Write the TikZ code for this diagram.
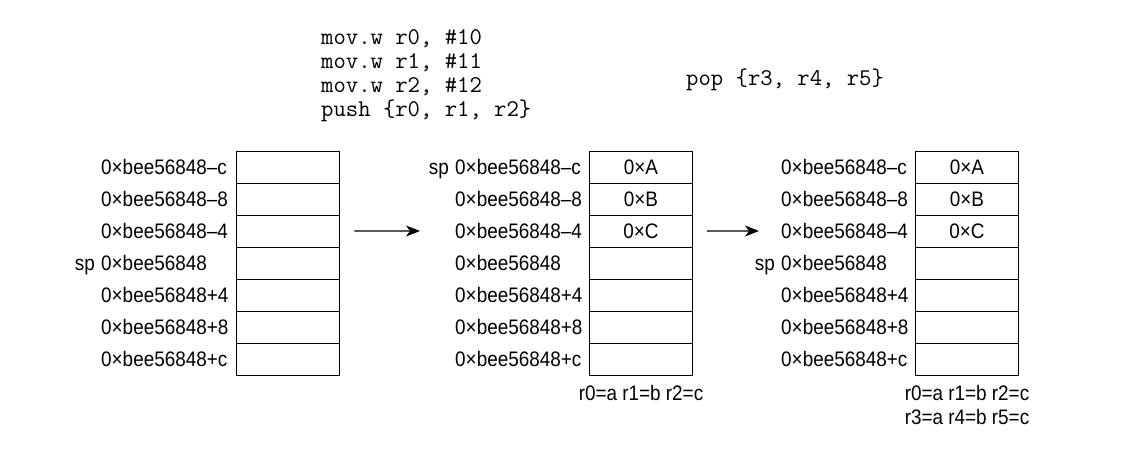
\documentclass[tikz,border=0pt]{standalone}
\usepackage{fontspec}
\setmainfont{Liberation Sans}[FakeStretch=0.9]
\usetikzlibrary{arrows.meta,positioning}

\tikzset{
  cell/.style={draw, line width=0.9pt, minimum width=103pt, minimum height=32pt, inner sep=0pt},
  addr/.style={anchor=base west, inner sep=0pt},
  arr/.style={-{Stealth[length=14pt,width=11pt,inset=4pt]}, line width=1.3pt},
}

\begin{document}
\begin{tikzpicture}[x=1pt, y=-1pt, font=\fontsize{21}{24}\selectfont]
\useasboundingbox (0,0) rectangle (1122,461);

% code
\node[anchor=north west, align=left, inner sep=0pt, font=\fontsize{24}{24}\ttfamily] (push) at (321,29) {mov.w r0, \#10\\mov.w r1, \#11\\mov.w r2, \#12\\push \{r0, r1, r2\}};
\node[anchor=mid west, inner sep=0pt, font=\fontsize{24}{24}\ttfamily] (pop) at (686,83) {pop \{r3, r4, r5\}};

% stacks
\foreach \i/\s in {1/–c, 2/–8, 3/–4, 4/{}, 5/+4, 6/+8, 7/+c} {
  \node[cell] (a\i) at (287.5, 135+32*\i) {};
  \node[cell] (b\i) at (641, 135+32*\i) {};
  \node[cell] (c\i) at (967, 135+32*\i) {};
  \node[addr] (la\i) at (101, 142.5+32*\i) {0×bee56848\s};
  \node[addr] (lb\i) at (455, 142.5+32*\i) {0×bee56848\s};
  \node[addr] (lc\i) at (781, 142.5+32*\i) {0×bee56848\s};
}
\foreach \i/\v in {1/A, 2/B, 3/C} {
  \node (vb\i) at (b\i) {0×\v};
  \node (vc\i) at (c\i) {0×\v};
}

% stack pointer
\node[base left=6pt of la4, inner sep=0pt] (spa) {sp};
\node[base left=6pt of lb1, inner sep=0pt] (spb) {sp};
\node[base left=6pt of lc4, inner sep=0pt] (spc) {sp};

\draw[arr] ([xshift=15pt]a3.east) -- ([xshift=-35pt]lb3.west);
\draw[arr] ([xshift=14pt]b3.east) -- ([xshift=-22pt]lc3.west);

% registers
\node[anchor=base] (rb) at ([yshift=-25.5pt]b7.south) {r0=a r1=b r2=c};
\node[anchor=base] (rc1) at ([yshift=-25.5pt]c7.south) {r0=a r1=b r2=c};
\node[anchor=base] (rc2) at ([yshift=-24pt]rc1.base) {r3=a r4=b r5=c};
\end{tikzpicture}
\end{document}
